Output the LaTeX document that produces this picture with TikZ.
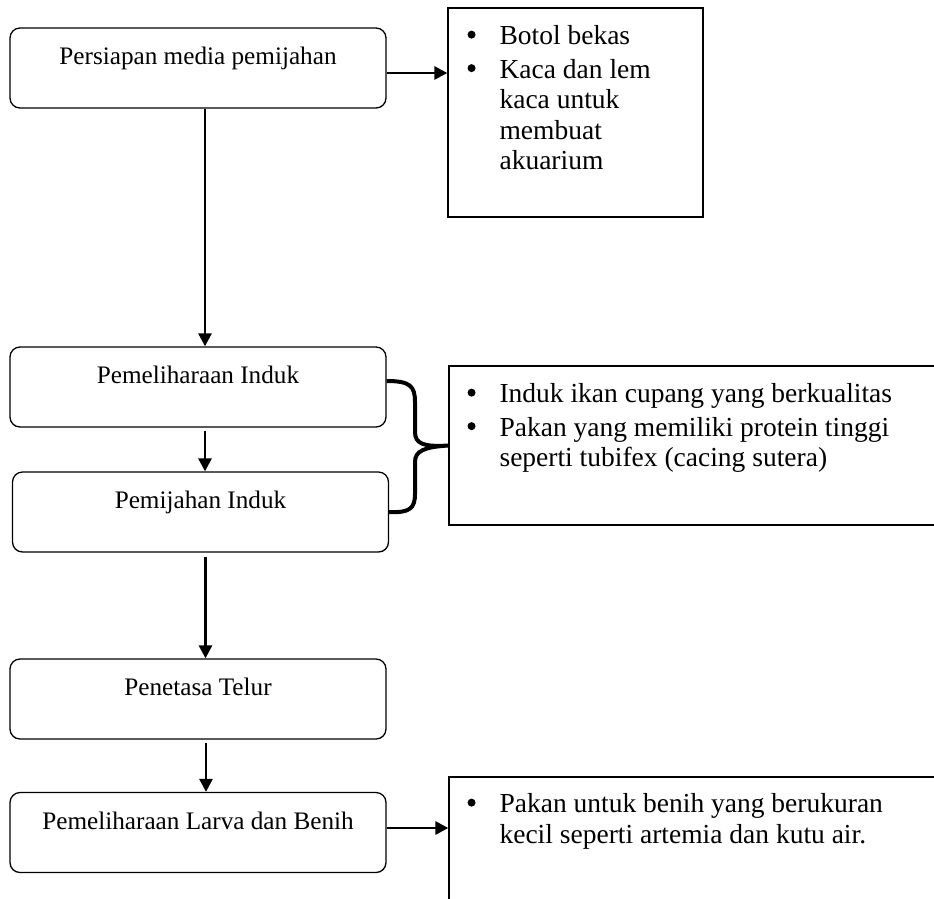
\documentclass[tikz,border=0pt]{standalone}
\usepackage{fontspec}
\setmainfont{Liberation Serif}
\usepackage{tikz}
\usetikzlibrary{arrows.meta, positioning}
\newcommand{\butir}{\makebox[32pt][l]{\tikz[baseline=-10pt]\fill (0pt,0pt) circle (4pt);}}
\newcommand{\sambung}{\hspace*{32pt}}
\tikzset{
    langkah/.style={draw, rounded corners=10pt, line width=1.3pt, minimum width=376pt, minimum height=80pt, inner sep=0pt, font=\fontsize{25.2}{30}\selectfont, text height=17pt, text depth=24pt}, % the rounded step boxes
    catatan/.style={draw, line width=1.3pt, inner sep=0pt}, % the square boxes on the right
    isi/.style={align=left, inner sep=0pt, anchor=north west, font=\fontsize{27.5}{30.5}\selectfont}, % the bullet text inside them
    panah/.style={-{Triangle[length=13pt, width=13pt]}, line width=2.8pt}, % the bold arrows
    kurung/.style={line width=4pt}, % the curly brace
}

\begin{document}
\begin{tikzpicture}[x=1pt, y=-1pt]
                  \useasboundingbox (0,0) rectangle (934,898);
                  \node[langkah] (siapkan) at (198,68) {Persiapan media pemijahan};
                  \node[langkah] (pelihara) at (198,387) {Pemeliharaan Induk};
                  \node[langkah] (pijah) at (200.5,512) {Pemijahan Induk};
                  \node[langkah] (tetas) at (198,699) {Penetasa Telur};
                  \node[langkah] (larva) at (198,832.5) {Pemeliharaan Larva dan Benih};
                  \node[catatan, minimum width=255pt, minimum height=209pt] (bahan1) at (575.5,112.5) {};
                  \node[catatan, minimum width=520pt, minimum height=159pt] (bahan2) at (709,445.5) {};
                  \node[catatan, minimum width=520pt, minimum height=160pt] (bahan3) at (709,857) {};
                  \node[isi] (isi1) at ([shift={(20pt,-18pt)}]bahan1.north west)
                      {\butir Botol bekas\\[3pt] \butir Kaca dan lem\\ \sambung kaca untuk\\ \sambung membuat\\ \sambung akuarium};
                  \node[isi] (isi2) at ([shift={(19pt,-18pt)}]bahan2.north west)
                      {\butir Induk ikan cupang yang berkualitas\\[3pt] \butir Pakan yang memiliki protein tinggi\\ \sambung seperti tubifex (cacing sutera)};
                  \node[isi] (isi3) at ([shift={(19pt,-17pt)}]bahan3.north west)
                      {\butir Pakan untuk benih yang berukuran\\ \sambung kecil seperti artemia dan kutu air.};
                  \draw[panah] ([yshift=-5pt]siapkan.east) -- ([yshift=-5pt]siapkan.east -| bahan1.west);
                  \draw[panah] ([xshift=7pt]siapkan.south) -- ([xshift=7pt]siapkan.south |- pelihara.north);
                  \draw[panah] ([xshift=7pt,yshift=-3pt]pelihara.south) -- ([xshift=7pt]pelihara.south |- pijah.north);
                  \draw[panah] ([xshift=5pt,yshift=-4pt]pijah.south) -- ([xshift=5pt]pijah.south |- tetas.north);
                  \draw[panah] ([xshift=8pt,yshift=-3pt]tetas.south) -- ([xshift=8pt]tetas.south |- larva.north);
                  \draw[panah] ([yshift=4.5pt]larva.east) -- ([yshift=4.5pt]larva.east -| bahan3.west);
                  \draw[kurung] ([yshift=6pt]pelihara.east) .. controls (410,381) and (415,386) .. (415,402)
                  -- (415,432) .. controls (415,444) and (424,447) .. (bahan2.west)
                  .. controls (424,447) and (415,451) .. (415,462)
                  -- (415,494) .. controls (415,508) and (410,513) .. (pijah.east);
              \end{tikzpicture}
\end{document}
